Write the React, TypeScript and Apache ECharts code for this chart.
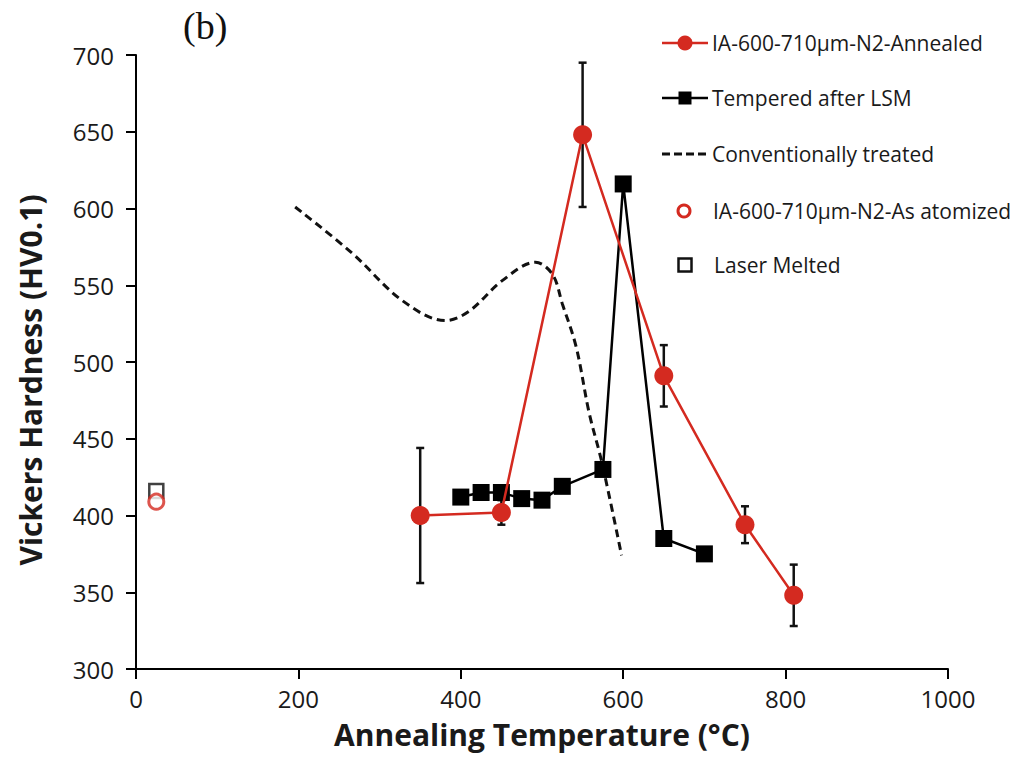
import React, { useEffect, useRef } from "react";
import * as echarts from "echarts";

// Annealed powder (IA-600-710µm-N2-Annealed): [temperature, hardness]
const annealedX = [350, 450, 550, 650, 750, 810];
const annealedY = [400, 402, 648, 491, 394, 348];
const annealedErr = [44, 8, 47, 20, 12, 20];

// Tempered after LSM
const temperedX = [400, 425, 450, 475, 500, 525, 575, 600, 650, 700];
const temperedY = [412, 415, 415, 411, 410, 419, 430, 616, 385, 375];

// Conventionally treated (dashed curve)
const convX = [196, 266, 328, 381, 410, 451, 492, 513, 525, 542, 558, 574, 598];
const convY = [601, 571, 540, 527, 533, 553, 565, 557, 538, 510, 467, 434, 374];

// Single points
const asAtomized = [[25, 409]];
const laserMelted = [[25, 416]];

const legendNames = [
  "IA-600-710μm-N2-Annealed",
  "Tempered after LSM",
  "Conventionally treated",
  "IA-600-710μm-N2-As atomized",
  "Laser Melted",
];

const xTicks = { min: 0, max: 1000, interval: 200 };
const yTicks = { min: 300, max: 700, interval: 50 };

const FONT = "'Open Sans', 'Noto Sans', sans-serif";
const RED = "#d42a20";

function legendGraphic() {
  const rows = [43, 98, 154, 211, 265];
  const textX = [712, 712, 712, 713, 714];
  const x0 = 662;
  const x1 = 708;
  const cx = 685;
  const els: any[] = [];
  // 1: red line + filled circle
  els.push({ type: "line", shape: { x1: x0, y1: rows[0], x2: x1, y2: rows[0] }, style: { stroke: RED, lineWidth: 2.5 } });
  els.push({ type: "circle", shape: { cx, cy: rows[0], r: 7.5 }, style: { fill: RED } });
  // 2: black line + filled square
  els.push({ type: "line", shape: { x1: x0, y1: rows[1], x2: x1, y2: rows[1] }, style: { stroke: "#000", lineWidth: 2.5 } });
  els.push({ type: "rect", shape: { x: cx - 6.5, y: rows[1] - 6.5, width: 13, height: 13 }, style: { fill: "#000" } });
  // 3: dashed line
  els.push({
    type: "line",
    shape: { x1: x0, y1: rows[2], x2: x1, y2: rows[2] },
    style: { stroke: "#111", lineWidth: 3, lineDash: [8, 4] },
  });
  // 4: hollow red circle
  els.push({ type: "circle", shape: { cx: 684, cy: rows[3], r: 6 }, style: { fill: "#fff", stroke: RED, lineWidth: 3 } });
  // 5: hollow black square
  els.push({
    type: "rect",
    shape: { x: 685 - 6.5, y: rows[4] - 6.5, width: 13, height: 13 },
    style: { fill: "#fff", stroke: "#111", lineWidth: 2.5 },
  });
  legendNames.forEach((name, i) => {
    els.push({
      type: "text",
      x: textX[i],
      y: rows[i],
      style: { text: name, font: `21px ${FONT}`, fill: "#1a1a1a", align: "left", verticalAlign: "middle" },
    });
  });
  return els;
}

export default function App() {
  const ref = useRef<HTMLDivElement>(null);
  useEffect(() => {
    if (!ref.current) return;
    const chart = echarts.init(ref.current, undefined, { renderer: "svg" });
    const zip = (xs: number[], ys: number[]) => xs.map((x, i) => [x, ys[i]]);
    const errData = annealedX.map((x, i) => [x, annealedY[i] - annealedErr[i], annealedY[i] + annealedErr[i]]);
    chart.setOption({
      animation: false,
      backgroundColor: "#ffffff",
      grid: { left: 136, right: 86, top: 55, bottom: 105, containLabel: false },
      graphic: [
        {
          type: "text",
          left: 183,
          top: 7,
          style: { text: "(b)", font: "38px 'Liberation Serif', serif", fill: "#111" },
        },
        ...legendGraphic(),
      ],
      xAxis: {
        type: "value",
        min: xTicks.min,
        max: xTicks.max,
        interval: xTicks.interval,
        name: "Annealing Temperature (°C)",
        nameLocation: "middle",
        nameGap: 51,
        nameTextStyle: { fontSize: 30, lineHeight: 28, fontWeight: "bold", fontFamily: FONT, color: "#1a1a1a" },
        axisLine: { show: true, onZero: false, lineStyle: { color: "#000", width: 2 } },
        axisTick: { show: true, inside: false, length: 10, lineStyle: { color: "#000", width: 2 } },
        axisLabel: {
          fontSize: 24,
          lineHeight: 20,
          fontFamily: FONT,
          color: "#1a1a1a",
          margin: 19,
          formatter: (v: number) => String(v),
        },
        splitLine: { show: false },
      },
      yAxis: {
        type: "value",
        min: yTicks.min,
        max: yTicks.max,
        interval: yTicks.interval,
        name: "Vickers Hardness (HV0.1)",
        nameLocation: "middle",
        nameRotate: 90,
        nameGap: 91,
        nameTextStyle: { fontSize: 30, fontWeight: "bold", fontFamily: FONT, color: "#1a1a1a", padding: [0, 36, 0, 0] },
        axisLine: { show: true, onZero: false, lineStyle: { color: "#000", width: 2 } },
        axisTick: { show: true, inside: false, length: 10, lineStyle: { color: "#000", width: 2 } },
        axisLabel: { fontSize: 24, fontFamily: FONT, color: "#1a1a1a", margin: 22 },
        splitLine: { show: false },
      },
      series: [
        {
          name: "errorbars",
          type: "custom",
          z: 1,
          silent: true,
          data: errData,
          renderItem: (params: any, api: any) => {
            const x = api.value(0);
            const lo = api.coord([x, api.value(1)]);
            const hi = api.coord([x, api.value(2)]);
            const cap = 4;
            const style = { stroke: "#111", lineWidth: 2.5 };
            return {
              type: "group",
              children: [
                { type: "line", shape: { x1: lo[0], y1: lo[1], x2: hi[0], y2: hi[1] }, style },
                { type: "line", shape: { x1: lo[0] - cap, y1: lo[1], x2: lo[0] + cap, y2: lo[1] }, style },
                { type: "line", shape: { x1: hi[0] - cap, y1: hi[1], x2: hi[0] + cap, y2: hi[1] }, style },
              ],
            };
          },
        },
        {
          name: legendNames[2],
          type: "line",
          z: 2,
          data: zip(convX, convY),
          smooth: 0.35,
          showSymbol: false,
          symbol: "none",
          lineStyle: { color: "#111", width: 3, type: [8, 5] },
          itemStyle: { color: "#111" },
        },
        {
          name: legendNames[1],
          type: "line",
          z: 3,
          data: zip(temperedX, temperedY),
          symbol: "rect",
          symbolSize: 17,
          lineStyle: { color: "#000", width: 2.5 },
          itemStyle: { color: "#000" },
        },
        {
          name: legendNames[0],
          type: "line",
          z: 4,
          data: zip(annealedX, annealedY),
          symbol: "circle",
          symbolSize: 19,
          lineStyle: { color: RED, width: 2.5 },
          itemStyle: { color: RED },
        },
        {
          name: legendNames[3],
          type: "scatter",
          z: 4,
          data: asAtomized,
          symbol: "circle",
          symbolSize: 15,
          itemStyle: { color: "#ffffff", borderColor: RED, borderWidth: 3 },
        },
        {
          name: legendNames[4],
          type: "scatter",
          z: 3,
          data: laserMelted,
          symbol: "rect",
          symbolSize: 14,
          itemStyle: { color: "rgba(255,255,255,0)", borderColor: "#111", borderWidth: 2.5 },
        },
      ],
    });
    return () => chart.dispose();
  }, []);
  return <div ref={ref} style={{ width: 1034, height: 774, margin: -8 }} />;
}
